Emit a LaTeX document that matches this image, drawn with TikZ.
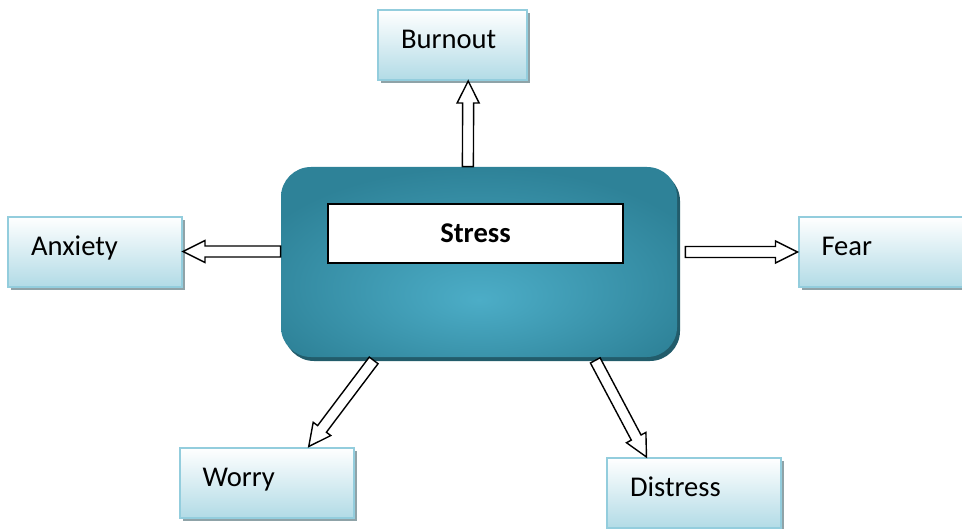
\documentclass[tikz,border=0pt]{standalone}
\usepackage{xcolor}
\usepackage{fontspec}
\setmainfont{Carlito}
\usepackage{tikz}
\usetikzlibrary{shapes,calc,shadows}
\definecolor{boxedge}{HTML}{93CDDD}
\definecolor{boxfill}{HTML}{B2DBE6}
\definecolor{shgray}{HTML}{8FA3A8}
\definecolor{corelight}{HTML}{4CADC7}
\definecolor{coredark}{HTML}{2E8298}
\definecolor{coreshadow}{HTML}{225C6B}
\pgfdeclareradialshading{glow}{\pgfpoint{0bp}{-10bp}}{color(0bp)=(corelight); color(30bp)=(coredark); color(60bp)=(coredark)}
\tikzset{lbl/.style={draw=boxedge,line width=1pt,top color=white,bottom color=boxfill,minimum width=87pt,minimum height=35pt,text width=64pt,inner xsep=11pt,align=left,text height=10pt,text depth=6.5pt,font=\fontsize{14.3}{16}\selectfont,drop shadow={shadow xshift=1.5pt,shadow yshift=-1.5pt,fill=shgray,opacity=1}}}
\tikzset{core/.style={rounded corners=15pt,shading=glow,minimum width=198pt,minimum height=95pt,drop shadow={shadow xshift=1.5pt,shadow yshift=-2pt,fill=coreshadow,opacity=1}}}
\tikzset{blk/.style={draw,fill=white,line width=0.7pt,to path={
    ($(\tikztostart)!2.75pt!90:(\tikztotarget)$) --
    ($($(\tikztotarget)!11pt!(\tikztostart)$)!2.75pt!90:(\tikztotarget)$) --
    ($($(\tikztotarget)!11pt!(\tikztostart)$)!5.5pt!90:(\tikztotarget)$) --
    (\tikztotarget) --
    ($($(\tikztotarget)!11pt!(\tikztostart)$)!5.5pt!-90:(\tikztotarget)$) --
    ($($(\tikztotarget)!11pt!(\tikztostart)$)!2.75pt!-90:(\tikztotarget)$) --
    ($(\tikztostart)!2.75pt!-90:(\tikztotarget)$) -- cycle}}}

\begin{document}
\begin{tikzpicture}[x=0.5pt,y=-0.5pt]
    \useasboundingbox (0,0) rectangle (962,529);
    \node[core] (a) at (479,262) {};
    \node[draw,fill=white,line width=0.8pt,minimum width=147.5pt,minimum height=29.5pt,font=\fontsize{14.3}{16}\selectfont\bfseries] (b) at (475.5,233.5) {Stress};
    \node[lbl,minimum width=74.5pt,text width=51.5pt] (c) at (452.5,45) {Burnout};
    \node[lbl] (d) at (95,251.5) {Anxiety};
    \node[lbl] (e) at (885.5,252) {Fear};
    \node[lbl] (f) at (266.5,482.5) {Worry};
    \node[lbl] (g) at (694,493) {Distress};

    \draw [blk] ($(a.north west)!0.472!(a.north east)$) to ($(c.south west)!0.604!(c.south east)$);
    \draw [blk] (a.west |- d.east) to (d.east);
    \draw [blk] ($(a.east |- e.west)+(8,0)$) to (e.west);
    \draw [blk] ($(a.south west)!0.237!(a.south east)+(-1,3)$) to ($(f.north west)!0.74!(f.north east)$);
    \draw [blk] ($(a.south west)!0.793!(a.south east)+(0,3)$) to ($(g.north west)!0.23!(g.north east)$);
\end{tikzpicture}
\end{document}
